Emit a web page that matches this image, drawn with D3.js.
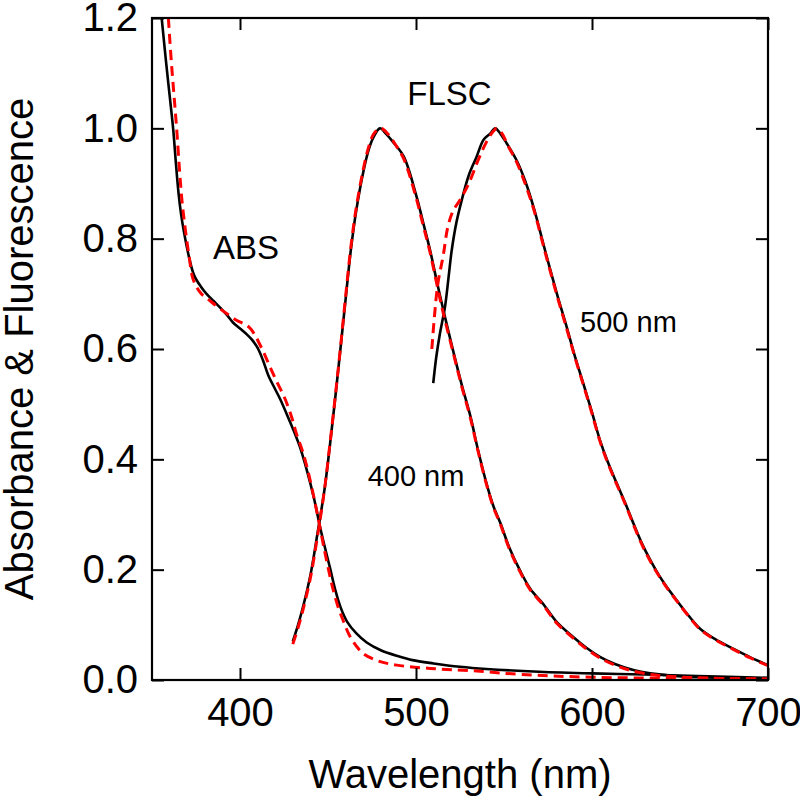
<!DOCTYPE html>
<html>
<head>
<meta charset="utf-8">
<script src="https://cdn.jsdelivr.net/npm/d3@7"></script>
<style>
  body { margin: 0; background: #fff; }
  svg text { font-family: "Liberation Sans", Arial, sans-serif; fill: #000; }
</style>
</head>
<body>
<div id="chart"></div>
<script>
// wavelength (nm), value pairs
const absSolid = [[355.5,1.2],[358,1.12],[360,1.06],[362,1.0],[363.5,0.94],[365,0.885],[366.5,0.845],[368,0.815],[371,0.767],[374,0.733],[378,0.712],[381,0.70],[385,0.687],[389,0.674],[393,0.66],[396,0.648],[400,0.637],[404,0.626],[407,0.616],[410,0.602],[413,0.58],[416,0.553],[420,0.527],[423,0.508],[428,0.471],[431,0.448],[434,0.423],[438,0.38],[442,0.33],[446,0.27],[451,0.205],[454,0.165],[457,0.133],[461,0.105],[466,0.085],[472,0.068],[480,0.054],[490,0.043],[498,0.036],[510,0.03],[525,0.024],[540,0.02],[570,0.015],[600,0.012],[630,0.01],[660,0.007],[700,0.004]];
const absDashed = [[359.3,1.2],[361,1.12],[362.5,1.06],[364,1.0],[365.5,0.93],[367,0.87],[369,0.815],[371,0.77],[373.5,0.725],[378,0.70],[382,0.69],[387,0.677],[393,0.663],[398,0.652],[402,0.646],[405,0.64],[408,0.628],[411,0.61],[414,0.59],[417,0.568],[421,0.54],[425,0.514],[429,0.48],[432,0.447],[436,0.41],[440,0.36],[444,0.3],[448,0.235],[451,0.19],[453,0.163],[456,0.13],[459,0.105],[462,0.082],[466,0.062],[470,0.048],[478,0.035],[489,0.027],[508,0.021],[531,0.017],[560,0.01],[600,0.005],[650,0.003],[700,0.002]];
const fl400Solid = [[430,0.07],[433,0.1],[436,0.135],[440,0.19],[444,0.265],[448,0.345],[451,0.423],[454,0.508],[457,0.598],[460,0.69],[463,0.78],[466,0.85],[470,0.92],[473,0.96],[476,0.985],[479.5,1.0],[483,0.99],[487,0.975],[493,0.949],[500,0.88],[504,0.83],[508,0.779],[512,0.72],[515.5,0.671],[521,0.598],[526,0.535],[531,0.477],[535,0.42],[540,0.357],[544,0.315],[548,0.284],[553,0.24],[559,0.199],[565,0.165],[572,0.139],[580,0.105],[589,0.079],[597,0.058],[604.5,0.042],[613,0.029],[623.5,0.018],[633,0.012],[642,0.009],[652,0.006],[661,0.005],[680,0.003],[700,0.002]];
const fl400Dashed = [[430,0.065],[433,0.095],[436,0.13],[440,0.185],[444,0.26],[448,0.345],[451,0.425],[454,0.51],[457,0.6],[460,0.695],[463,0.785],[466,0.855],[470,0.925],[473,0.965],[476,0.99],[480,1.0],[484,0.99],[488,0.972],[493,0.945],[500,0.875],[504,0.825],[508,0.775],[512,0.715],[515.5,0.665],[521,0.595],[526,0.532],[531,0.474],[535,0.418],[540,0.355],[544,0.313],[548,0.282],[553,0.238],[559,0.197],[565,0.163],[572,0.137],[580,0.103],[589,0.077],[597,0.056],[604.5,0.04],[613,0.027],[623.5,0.016],[633,0.01],[642,0.007],[652,0.005],[661,0.004],[680,0.002],[700,0.001]];
const fl500Solid = [[509.8,0.538],[511.5,0.585],[513.6,0.628],[516.5,0.677],[518.5,0.73],[520.3,0.779],[523,0.83],[526,0.87],[530,0.915],[534.5,0.949],[538.3,0.979],[542,0.99],[545,1.0],[548,0.99],[551.5,0.973],[557,0.943],[562,0.905],[567,0.855],[573.3,0.779],[580,0.701],[585.6,0.64],[590,0.59],[595,0.538],[600,0.485],[604.5,0.435],[609,0.395],[614,0.357],[619,0.32],[623.5,0.284],[628,0.25],[633,0.218],[638,0.19],[642.4,0.169],[648,0.145],[653.8,0.121],[661.4,0.093],[670,0.074],[680,0.057],[690,0.041],[700,0.027]];
const fl500Dashed = [[509,0.6],[510.5,0.66],[512.5,0.72],[515.5,0.77],[518,0.82],[521,0.85],[525,0.87],[530,0.9],[535,0.94],[540,0.975],[544,0.995],[546,1.0],[549,0.99],[552,0.97],[557,0.94],[562,0.9],[567,0.852],[573.3,0.776],[580,0.698],[585.6,0.637],[590,0.588],[595,0.536],[600,0.483],[604.5,0.433],[609,0.393],[614,0.355],[619,0.318],[623.5,0.282],[628,0.248],[633,0.216],[638,0.189],[642.4,0.168],[648,0.144],[653.8,0.12],[661.4,0.092],[670,0.073],[680,0.056],[690,0.04],[700,0.026]];

const xTicks = [400, 500, 600, 700];
const yTicks = [0.0, 0.2, 0.4, 0.6, 0.8, 1.0, 1.2];
const labels = [
  { text: "ABS", wl: 403.4, val: 0.763, size: 33 },
  { text: "FLSC", wl: 519, val: 1.042, size: 33 },
  { text: "400 nm", wl: 500, val: 0.351, size: 29 },
  { text: "500 nm", wl: 620.7, val: 0.631, size: 29 }
];

const width = 800, height = 802;
const margin = { top: 18, right: 32, bottom: 122, left: 152 };
const plotW = width - margin.left - margin.right;
const plotH = height - margin.top - margin.bottom;

const svg = d3.select('#chart').append('svg')
  .attr('width', width)
  .attr('height', height);

const g = svg.append('g')
  .attr('transform', `translate(${margin.left},${margin.top})`);

const x = d3.scaleLinear().domain([350, 700]).range([0, plotW]);
const y = d3.scaleLinear().domain([0, 1.2]).range([plotH, 0]);

g.append('clipPath').attr('id', 'clip')
  .append('rect').attr('width', plotW).attr('height', plotH);

const line = d3.line()
  .x(d => x(d[0]))
  .y(d => y(d[1]))
  .curve(d3.curveCatmullRom.alpha(0.5));

const curves = g.append('g').attr('clip-path', 'url(#clip)');

// black measured spectra
[absSolid, fl400Solid, fl500Solid].forEach(data => {
  curves.append('path')
    .datum(data)
    .attr('d', line)
    .attr('fill', 'none')
    .attr('stroke', '#000')
    .attr('stroke-width', 2.6);
});

// red dashed spectra
[absDashed, fl400Dashed, fl500Dashed].forEach(data => {
  curves.append('path')
    .datum(data)
    .attr('d', line)
    .attr('fill', 'none')
    .attr('stroke', '#ff0000')
    .attr('stroke-width', 3)
    .attr('stroke-dasharray', '10,6');
});

// axes with inward ticks on all four sides
const tickLen = 12;
const xAxis = g.append('g')
  .attr('transform', `translate(0,${plotH})`)
  .call(d3.axisBottom(x).tickValues(xTicks).tickSize(-tickLen).tickPadding(18).tickFormat(d3.format('d')));
const yAxis = g.append('g')
  .call(d3.axisLeft(y).tickValues(yTicks).tickSize(-tickLen).tickPadding(14).tickFormat(d3.format('.1f')));
const xTop = g.append('g')
  .call(d3.axisTop(x).tickValues(xTicks).tickSize(-tickLen).tickFormat(''));
const yRight = g.append('g')
  .attr('transform', `translate(${plotW},0)`)
  .call(d3.axisRight(y).tickValues(yTicks).tickSize(-tickLen).tickFormat(''));

[xAxis, yAxis, xTop, yRight].forEach(a => {
  a.select('.domain').remove();
  a.selectAll('.tick line').attr('stroke', '#000').attr('stroke-width', 2);
  a.selectAll('.tick text').attr('font-size', 40).attr('fill', '#000')
    .style('font-family', '"Liberation Sans", Arial, sans-serif');
});

// frame
g.append('rect')
  .attr('width', plotW)
  .attr('height', plotH)
  .attr('fill', 'none')
  .attr('stroke', '#000')
  .attr('stroke-width', 2.2);

// in-plot labels
labels.forEach(l => {
  g.append('text')
    .attr('x', x(l.wl))
    .attr('y', y(l.val))
    .attr('text-anchor', 'middle')
    .attr('font-size', l.size)
    .text(l.text);
});

// axis titles
svg.append('text')
  .attr('x', margin.left + plotW / 2)
  .attr('y', 788)
  .attr('text-anchor', 'middle')
  .attr('font-size', 40)
  .text('Wavelength (nm)');

svg.append('text')
  .attr('transform', `translate(33,${margin.top + plotH / 2}) rotate(-90)`)
  .attr('text-anchor', 'middle')
  .attr('font-size', 40)
  .text('Absorbance & Fluorescence');
</script>
</body>
</html>
